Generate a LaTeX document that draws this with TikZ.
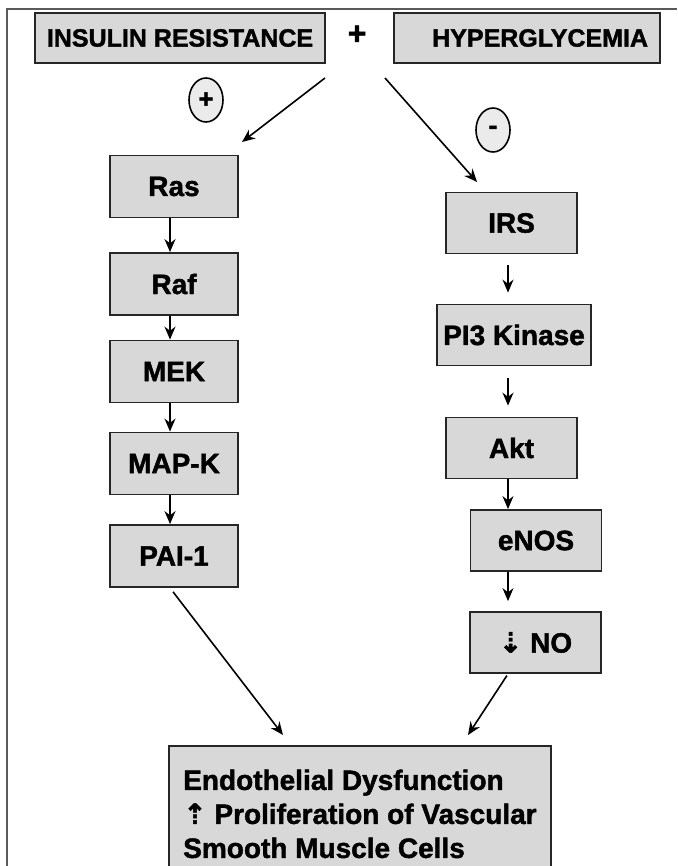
\documentclass[tikz,border=0pt]{standalone}
\usepackage{fontspec}
\setmainfont{Liberation Sans}[BoldFeatures = {FakeBold = 1.5}]
\newfontfamily\arrowfont{DejaVu Sans}[FakeBold = 1.5]
\usetikzlibrary{arrows.meta,shapes.geometric}
\definecolor{boxgray}{RGB}{216,216,216}
\definecolor{framegray}{RGB}{90,90,90}
\begin{document}
\begin{tikzpicture}[x = 1pt, y = -1pt,
        box/.style = {draw = black!85, line width = 1.8pt, fill = boxgray, inner sep = 0pt,
            font = \fontsize{28}{34}\selectfont\bfseries},
        head/.style = {box, minimum height = 50pt, font = \fontsize{25}{25}\selectfont\bfseries},
        sign/.style = {ellipse, draw, line width = 1.6pt, fill = boxgray!50, inner sep = 0pt,
            minimum width = 34pt, minimum height = 44pt, font = \fontsize{26}{26}\selectfont\bfseries},
        arr/.style = {-{Stealth[length = 13pt, width = 11pt]}, line width = 1.6pt}]
    \useasboundingbox (0,0) rectangle (677,866);
    \draw[framegray, line width = 1.5pt] (7,866) -- (7,9) -- (677,9);
    \node[head, minimum width = 290pt] (insulin) at (180,38) {INSULIN RESISTANCE};
    \node[font = \fontsize{32}{32}\selectfont\bfseries] (plus) at (357,35) {+};
    \node[head, minimum width = 266pt, text width = 242pt, inner xsep = 12pt, align = right] (hyper) at (527,38) {HYPERGLYCEMIA};
    \node[sign] (up) at (206,100) {+};
    \node[sign] (down) at (493,130) {-};
    \begin{scope}[every node/.append style = {box, minimum width = 128pt, minimum height = 62pt}]
        \node (ras) at (174,186.5) {Ras};
        \node (raf) at (174,284) {Raf};
        \node (mek) at (174,371.5) {MEK};
        \node (mapk) at (174,463.5) {MAP-K};
        \node (pai) at (174,556) {PAI-1};
    \end{scope}
    \begin{scope}[every node/.append style = {box, minimum width = 131pt, minimum height = 61pt}]
        \node (irs) at (511.5,223) {IRS};
        \node[minimum width = 154pt] (pi3) at (514,335) {PI3 Kinase};
        \node (akt) at (511.5,448) {Akt};
        \node (enos) at (536,540.5) {eNOS};
        \node (no) at (535.5,642.5) {{\arrowfont ⇣} NO};
    \end{scope}
    \node[box, anchor = north west, minimum width = 382pt, minimum height = 136pt, align = left] (dysf) at (168,745)
        {Endothelial Dysfunction\\{\arrowfont ⇡} Proliferation of Vascular\\Smooth Muscle Cells};
    \coordinate (lcol) at (170,0);
    \coordinate (rcol) at (508,0);
    \coordinate (forkl) at (325,78);
    \coordinate (forkr) at (385,78);
    \coordinate (rasin) at (242,142);
    \coordinate (irsin) at (477,182);
    \coordinate (dysfl) at (283,735);
    \coordinate (dysfr) at (468,735);
    \draw[arr] (forkl) -- (rasin);
    \draw[arr] (forkr) -- (irsin);
    \draw[arr] (ras.south -| lcol) -- (raf.north -| lcol);
    \draw[arr] (raf.south -| lcol) -- (mek.north -| lcol);
    \draw[arr] (mek.south -| lcol) -- (mapk.north -| lcol);
    \draw[arr] (mapk.south -| lcol) -- (pai.north -| lcol);
    \draw[arr, shorten <= 11pt, shorten >= 11pt] (irs.south -| rcol) -- (pi3.north -| rcol);
    \draw[arr, shorten <= 12pt, shorten >= 11pt] (pi3.south -| rcol) -- (akt.north -| rcol);
    \draw[arr] (akt.south -| rcol) -- (enos.north -| rcol);
    \draw[arr, shorten >= 10pt] (enos.south -| rcol) -- (no.north -| rcol);
    \draw[arr, shorten <= 5pt] (pai.south -| lcol) -- (dysfl);
    \draw[arr, shorten <= 2pt] (no.south -| rcol) -- (dysfr);
\end{tikzpicture}
\end{document}
